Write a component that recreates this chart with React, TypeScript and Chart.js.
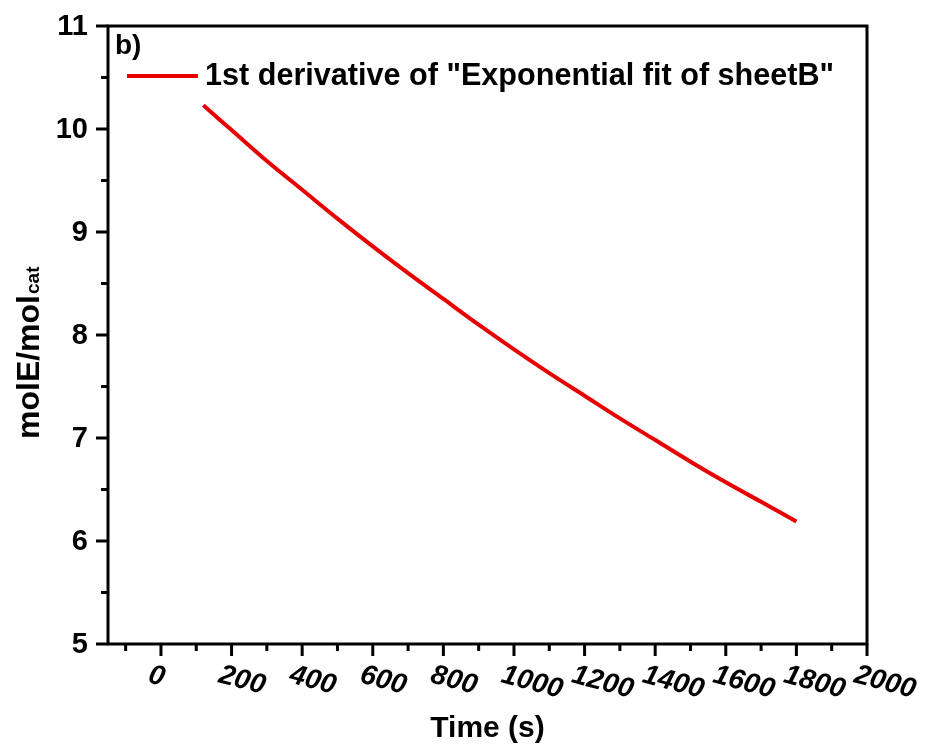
import React, { useEffect, useRef } from "react";
import { Chart, registerables } from "chart.js";

Chart.register(...registerables);

const timeS = [120, 200, 300, 400, 500, 600, 700, 800, 900, 1000, 1100, 1200, 1300, 1400, 1500, 1600, 1700, 1800];
const ratio = [10.23, 9.99, 9.69, 9.41, 9.13, 8.86, 8.6, 8.35, 8.1, 7.86, 7.63, 7.41, 7.19, 6.98, 6.77, 6.57, 6.38, 6.19];
const seriesLabel = '1st derivative of "Exponential fit of sheetB"';
const xMajorTicks = [0, 200, 400, 600, 800, 1000, 1200, 1400, 1600, 1800, 2000];
const xMinorTicks = [-100, 100, 300, 500, 700, 900, 1100, 1300, 1500, 1700, 1900];
const yMajorTicks = [5, 6, 7, 8, 9, 10, 11];
const yMinorTicks = [5.5, 6.5, 7.5, 8.5, 9.5, 10.5];
const panelLabel = "b)";
const xTitle = "Time (s)";

const FONT = '"Liberation Sans", Arial, sans-serif';
const RED = "rgb(232,0,0)";

const decorPlugin = {
  id: "decor",
  afterDraw(chart: any) {
    const { ctx, chartArea } = chart;
    const { left, right, top, bottom } = chartArea;
    const xs = chart.scales.x;
    const ys = chart.scales.y;
    ctx.save();
    ctx.strokeStyle = "#000";
    ctx.fillStyle = "#000";
    ctx.lineWidth = 3;
    ctx.lineCap = "butt";
    // frame
    ctx.beginPath();
    ctx.moveTo(left, bottom);
    ctx.lineTo(left, top);
    ctx.lineTo(right, top);
    ctx.lineTo(right, bottom);
    ctx.lineTo(left, bottom);
    ctx.closePath();
    ctx.stroke();
    // x ticks
    ctx.beginPath();
    xMajorTicks.forEach((v) => {
      const p = xs.getPixelForValue(v);
      ctx.moveTo(p, bottom);
      ctx.lineTo(p, bottom + 12);
    });
    xMinorTicks.forEach((v) => {
      const p = xs.getPixelForValue(v);
      ctx.moveTo(p, bottom);
      ctx.lineTo(p, bottom + 7);
    });
    // y ticks
    yMajorTicks.forEach((v) => {
      const p = ys.getPixelForValue(v);
      ctx.moveTo(left, p);
      ctx.lineTo(left - 12, p);
    });
    yMinorTicks.forEach((v) => {
      const p = ys.getPixelForValue(v);
      ctx.moveTo(left, p);
      ctx.lineTo(left - 7, p);
    });
    ctx.stroke();

    // y tick labels
    ctx.font = `bold 29px ${FONT}`;
    ctx.textAlign = "right";
    ctx.textBaseline = "middle";
    yMajorTicks.forEach((v) => {
      const p = ys.getPixelForValue(v);
      ctx.fillText(String(v), left - 20, p + 1);
    });

    // x tick labels (italic, slanted)
    ctx.font = `italic bold 28px ${FONT}`;
    ctx.textAlign = "left";
    ctx.textBaseline = "alphabetic";
    xMajorTicks.forEach((v) => {
      const p = xs.getPixelForValue(v);
      ctx.save();
      ctx.translate(p - 14, bottom + 38);
      ctx.rotate((15 * Math.PI) / 180);
      ctx.fillText(String(v), 0, 0);
      ctx.restore();
    });

    // x title
    ctx.font = `bold 30px ${FONT}`;
    ctx.textAlign = "center";
    ctx.fillText(xTitle, (left + right) / 2, bottom + 93);

    // y title with subscript
    ctx.save();
    ctx.translate(39, 439);
    ctx.rotate(-Math.PI / 2);
    ctx.textAlign = "left";
    ctx.font = `bold 32px ${FONT}`;
    const main = "molE/mol";
    ctx.fillText(main, 0, 0);
    const w = ctx.measureText(main).width;
    ctx.font = `bold 19px ${FONT}`;
    ctx.fillText("cat", w + 1, 0);
    ctx.restore();

    // panel label
    ctx.font = `bold 28px ${FONT}`;
    ctx.textAlign = "left";
    ctx.textBaseline = "alphabetic";
    ctx.fillText(panelLabel, left + 7, top + 28);

    // legend
    const ly = top + 50;
    ctx.strokeStyle = RED;
    ctx.lineWidth = 4;
    ctx.beginPath();
    ctx.moveTo(left + 19, ly);
    ctx.lineTo(left + 90, ly);
    ctx.stroke();
    ctx.font = `bold 30.6px ${FONT}`;
    ctx.textBaseline = "middle";
    ctx.fillStyle = "#000";
    ctx.fillText(seriesLabel, left + 97, ly + 1);
    ctx.restore();
  },
};

export default function App() {
  const ref = useRef<HTMLCanvasElement | null>(null);
  useEffect(() => {
    if (!ref.current) return;
    const chart = new Chart(ref.current, {
      type: "line",
      data: {
        datasets: [
          {
            label: seriesLabel,
            data: timeS.map((t, i) => ({ x: t, y: ratio[i] })),
            borderColor: RED,
            borderWidth: 4,
            pointRadius: 0,
            cubicInterpolationMode: "monotone",
            fill: false,
          },
        ],
      },
      options: {
        animation: false,
        responsive: true,
        maintainAspectRatio: false,
        layout: { padding: { top: 26, right: 58, left: 0, bottom: 0 } },
        plugins: { legend: { display: false }, tooltip: { enabled: false } },
        scales: {
          x: {
            type: "linear",
            min: -150,
            max: 2000,
            grid: { display: false },
            border: { display: false },
            ticks: { display: false },
            afterFit: (s: any) => {
              s.height = 100;
            },
          },
          y: {
            type: "linear",
            min: 5,
            max: 11,
            grid: { display: false },
            border: { display: false },
            ticks: { display: false },
            afterFit: (s: any) => {
              s.width = 108;
            },
          },
        },
      },
      plugins: [decorPlugin],
    } as any);
    return () => chart.destroy();
  }, []);
  return (
    <div style={{ position: "absolute", left: 0, top: 0, width: 925, height: 744, background: "#fff" }}>
      <canvas ref={ref} />
    </div>
  );
}
